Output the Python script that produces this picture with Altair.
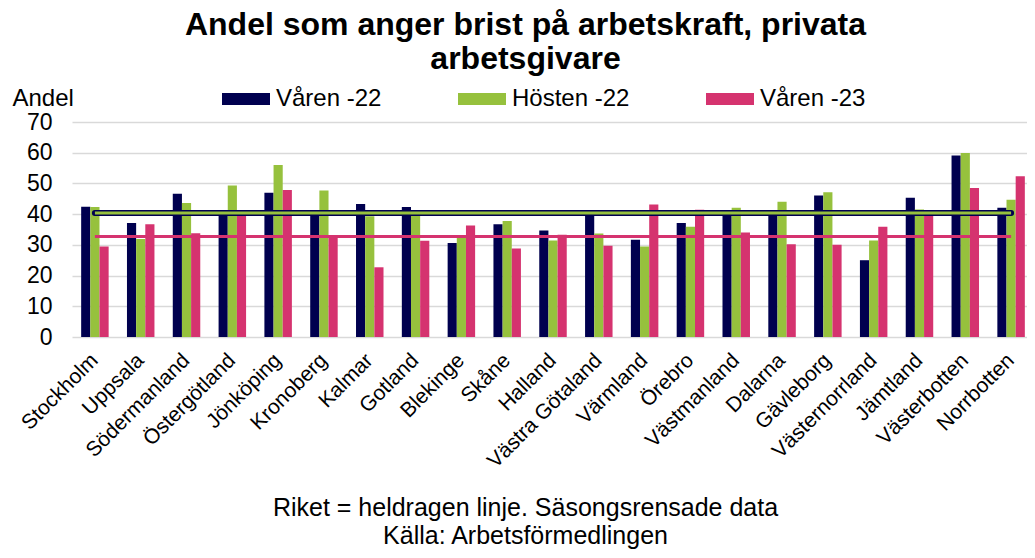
import altair as alt
import pandas as pd

categories = ["Stockholm", "Uppsala", "Södermanland", "Östergötland", "Jönköping",
              "Kronoberg", "Kalmar", "Gotland", "Blekinge", "Skåne", "Halland",
              "Västra Götaland", "Värmland", "Örebro", "Västmanland", "Dalarna",
              "Gävleborg", "Västernorrland", "Jämtland", "Västerbotten", "Norrbotten"]
periods = ["Våren -22", "Hösten -22", "Våren -23"]
varen22 = [42.4, 37.1, 46.6, 40.2, 47.0, 40.0, 43.3, 42.3, 30.6, 36.7, 34.7,
           40.3, 31.7, 37.1, 40.2, 40.0, 46.1, 25.0, 45.3, 59.1, 42.1]
hosten22 = [42.3, 31.9, 43.6, 49.3, 56.0, 47.7, 39.3, 40.2, 32.8, 37.8, 31.4,
            33.7, 29.5, 35.9, 42.1, 44.0, 47.1, 31.4, 41.5, 59.9, 44.7]
varen23 = [29.5, 36.7, 33.8, 40.0, 47.9, 32.5, 22.7, 31.3, 36.3, 28.8, 33.3,
           29.7, 43.1, 41.4, 34.0, 30.2, 30.0, 35.9, 40.0, 48.5, 52.3]
riket = [40.4, 40.4, 32.7]
colors = ["#00004F", "#96C13D", "#D5336F"]

FONT = "Liberation Sans"

rows = []
for i, c in enumerate(categories):
    for p, vals in zip(periods, [varen22, hosten22, varen23]):
        rows.append({"Region": c, "Period": p, "Andel": vals[i]})
df = pd.DataFrame(rows)

line_dfs = [pd.DataFrame({"Region": categories, "Andel": [r] * len(categories)}) for r in riket]

x_enc = alt.X("Region:N", sort=categories,
              scale=alt.Scale(paddingInner=0, paddingOuter=0, range=[0, 962]),
              axis=alt.Axis(labelAngle=-45, labelAlign="right", labelBaseline="middle",
                            labelFontSize=21, labelFont=FONT, labelColor="black",
                            labelPadding=20, ticks=False, domain=False, labelLimit=300,
                            title=["Riket = heldragen linje. Säsongsrensade data",
                                   "Källa: Arbetsförmedlingen"],
                            titleFont=FONT, titleFontSize=25, titleFontWeight="normal",
                            titleColor="black", titleX=453, titleY=178,
                            titleAlign="center", titleBaseline="alphabetic",
                            titleLineHeight=28))
y_enc = alt.Y("Andel:Q", scale=alt.Scale(domain=[0, 70]),
              axis=alt.Axis(values=[0, 10, 20, 30, 40, 50, 60, 70], format="d",
                            labelFontSize=23, labelFont=FONT, labelColor="black",
                            labelPadding=20, ticks=False, domain=False,
                            gridColor="#d9d9d9", gridWidth=1.5,
                            title="Andel", titleFont=FONT, titleFontSize=24,
                            titleFontWeight="normal", titleColor="black",
                            titleAngle=0, titleAlign="left", titleBaseline="alphabetic",
                            titleX=-60, titleY=-17))

bars = alt.Chart(df).mark_bar().encode(
    x=x_enc,
    xOffset=alt.XOffset("Period:N", sort=periods,
                        scale=alt.Scale(paddingInner=0, paddingOuter=1.0)),
    y=y_enc,
    color=alt.Color("Period:N", sort=periods,
                    scale=alt.Scale(domain=periods, range=colors),
                    legend=alt.Legend(orient="none", legendX=150, legendY=-47,
                                      direction="horizontal", title=None,
                                      symbolType="M-1,-0.25H1V0.25H-1Z", symbolSize=2304,
                                      symbolStrokeWidth=0, labelFontSize=24,
                                      labelFont=FONT, labelColor="black",
                                      columnPadding=76, labelOffset=6)),
)

line_navy = alt.Chart(line_dfs[0]).mark_line(color=colors[0], strokeWidth=6, strokeCap="round").encode(x=x_enc, y=y_enc)
line_green = alt.Chart(line_dfs[1]).mark_line(color=colors[1], strokeWidth=3).encode(x=x_enc, y=y_enc)
line_pink = alt.Chart(line_dfs[2]).mark_line(color=colors[2], strokeWidth=3).encode(x=x_enc, y=y_enc)

chart = alt.layer(bars, line_navy, line_green, line_pink).properties(
    width=955, height=215,
    title=alt.Title(["Andel som anger brist på arbetskraft, privata", "arbetsgivare"],
                    font=FONT, fontSize=32, fontWeight="bold", color="black",
                    anchor="middle", dx=-24, offset=-1, lineHeight=34),
    autosize=alt.AutoSizeParams(type="none"),
    padding={"left": 64, "top": 114, "right": 0, "bottom": 212},
).configure_view(stroke=None)

chart.save("out.html", embed_options={"renderer": "svg", "actions": False})
